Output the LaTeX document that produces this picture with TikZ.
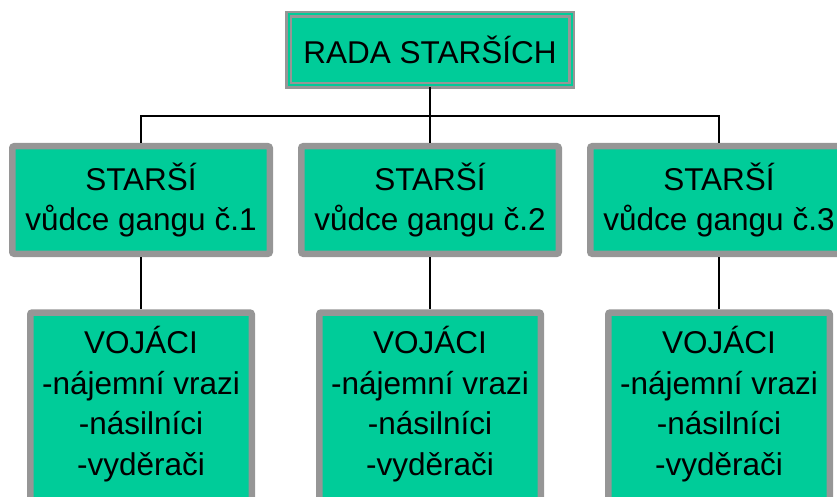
\documentclass[tikz,border=0pt]{standalone}
\usepackage{fontspec}
\setmainfont{Liberation Sans}
\definecolor{boxfill}{RGB}{0,204,153}
\definecolor{boxline}{RGB}{150,150,150}
\begin{document}
\begin{tikzpicture}[x=1pt,y=-1pt,
  boxtxt/.style={font=\fontsize{31.5}{40.5}\selectfont, align=center, text=black},
  midbox/.style={boxtxt, rectangle, rounded corners=2pt, fill=boxfill, draw=boxline,
    line width=6.5pt, inner sep=0pt, minimum width=257.5pt, minimum height=107.5pt},
  lowbox/.style={rectangle, rounded corners=2pt, fill=boxfill, draw=boxline,
    line width=6.5pt, inner sep=0pt, minimum width=221.5pt, minimum height=195pt},
  topbox/.style={boxtxt, rectangle, fill=boxfill, draw=boxline, double=boxfill,
    double distance=2pt, line width=2.5pt, inner sep=0pt, minimum width=283pt, minimum height=71pt},
  conn/.style={draw=black, line width=1.5pt}]
\useasboundingbox (0,0) rectangle (837,497);
\clip (0,0) rectangle (837,497);

\node[topbox] (top) at (430,50) {RADA STARŠÍCH};

\node[midbox] (m1) at (141,200) {STARŠÍ\\vůdce gangu č.1};
\node[midbox] (m2) at (430,200) {STARŠÍ\\vůdce gangu č.2};
\node[midbox] (m3) at (719,200) {STARŠÍ\\vůdce gangu č.3};

\node[lowbox] (b1) at (141,410) {};
\node[lowbox] (b2) at (430,410) {};
\node[lowbox] (b3) at (719,410) {};

\node[boxtxt] (t1) at (141,404) {VOJÁCI\\-nájemní vrazi\\-násilníci\\-vyděrači};
\node[boxtxt] (t2) at (430,404) {VOJÁCI\\-nájemní vrazi\\-násilníci\\-vyděrači};
\node[boxtxt] (t3) at (719,404) {VOJÁCI\\-nájemní vrazi\\-násilníci\\-vyděrači};

\coordinate (j) at (430,116);
\draw[conn] (top.south) -- (m2.north);
\draw[conn] (m1.north) -- (m1.north |- j) -- (m3.north |- j) -- (m3.north);
\draw[conn] (m1.south) -- (b1.north);
\draw[conn] (m2.south) -- (b2.north);
\draw[conn] (m3.south) -- (b3.north);
\end{tikzpicture}
\end{document}
